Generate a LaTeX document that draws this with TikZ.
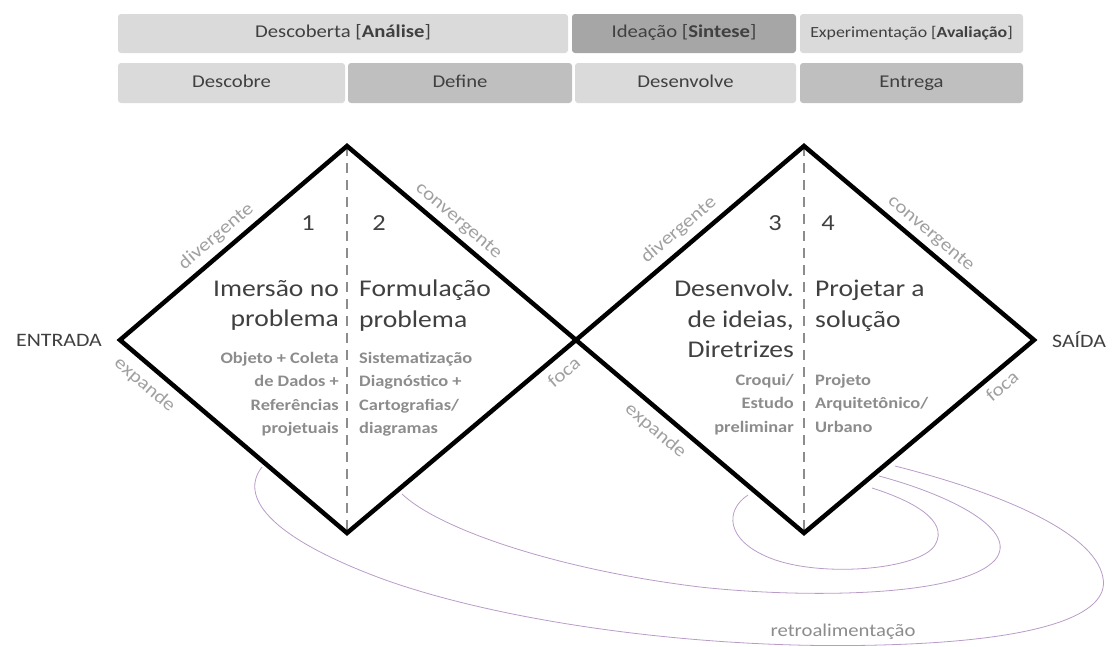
\documentclass[tikz,border=0pt]{standalone}
\usepackage{fontspec}
\setmainfont{Carlito}[FakeStretch=1.15]
\usetikzlibrary{positioning}

\definecolor{barlight}{RGB}{218,218,218}
\definecolor{bardark}{RGB}{191,191,191}
\definecolor{barideia}{RGB}{166,166,166}
\definecolor{txtdark}{RGB}{64,64,64}
\definecolor{txtgray}{RGB}{140,140,140}
\definecolor{edgegray}{RGB}{160,160,160}
\definecolor{loopviolet}{RGB}{185,155,200}

\begin{document}
\begin{tikzpicture}[x=1pt, y=-1pt,
    bar/.style={rectangle, rounded corners=3pt, minimum height=39pt, inner sep=0pt, outer sep=0pt, text=txtdark, text height=12pt, text depth=4pt, font=\fontsize{18}{20}\selectfont},
    diamondline/.style={line width=4.5pt, black},
    midline/.style={line width=2pt, txtgray, dash pattern=on 10pt off 7pt},
    edgelbl/.style={font=\fontsize{18.5}{20}\selectfont, text=edgegray, inner sep=0pt, sloped},
    bigtxt/.style={font=\fontsize{24}{30.5}\selectfont, text=txtdark, inner sep=0pt},
    smalltxt/.style={font=\bfseries\fontsize{16}{23.5}\selectfont, text=txtgray, inner sep=0pt},
    numtxt/.style={font=\fontsize{23}{25}\selectfont, text=txtdark, inner sep=0pt},
    sidetxt/.style={font=\fontsize{19}{20}\selectfont, text=txtdark, inner sep=0pt},
    loopline/.style={line width=0.8pt, loopviolet},
  ]
    \useasboundingbox (0,0) rectangle (1113,646);

    % phases (top row)
    \node[bar, fill=barlight, minimum width=450pt] (descoberta) at (343,33.5) {Descoberta [\textbf{Análise}]};
    \node[bar, fill=barideia, minimum width=224pt, right=4pt of descoberta] (ideacao) {Ideação [\textbf{Sintese}]};
    \node[bar, fill=barlight, minimum width=223pt, right=4pt of ideacao, font=\fontsize{15.5}{16}\selectfont] (experim) {Experimentação [\textbf{Avaliação}]};

    % stages (second row)
    \node[bar, fill=barlight, minimum width=227pt, minimum height=40pt] (descobre) at (231.5,83) {Descobre};
    \node[bar, fill=bardark, minimum width=224pt, minimum height=40pt, right=3pt of descobre] (define) {Define};
    \node[bar, fill=barlight, minimum width=221pt, minimum height=40pt, right=3pt of define] (desenvolve) {Desenvolve};
    \node[bar, fill=bardark, minimum width=223pt, minimum height=40pt, right=4pt of desenvolve] (entrega) {Entrega};

    % diamond corners
    \coordinate (inL) at (120,340);
    \coordinate (t1) at (347,146);
    \coordinate (mid) at (576,340);
    \coordinate (b1) at (347,533);
    \coordinate (t2) at (804,146);
    \coordinate (outR) at (1034,340);
    \coordinate (b2) at (804,533);

    % feedback loops (behind the diamonds)
    \coordinate (fbA1) at (262,467);
    \coordinate (fbA2) at (895,466);
    \coordinate (fbB1) at (402,494);
    \coordinate (fbB2) at (879,476);
    \coordinate (fbC1) at (748,495);
    \coordinate (fbC2) at (872,488);
    \draw[loopline] (fbA1) .. controls (240,495) and (265,535) .. (380,578)
        .. controls (500,622) and (700,650) .. (880,645)
        .. controls (1040,641) and (1110,615) .. (1103,578)
        .. controls (1095,530) and (990,490) .. (fbA2);
    \draw[loopline] (fbB1) .. controls (440,530) and (560,570) .. (700,587)
        .. controls (800,598) and (960,598) .. (995,560)
        .. controls (1020,530) and (950,495) .. (fbB2);
    \draw[loopline] (fbC1) .. controls (725,510) and (725,540) .. (770,558)
        .. controls (820,578) and (920,570) .. (935,545)
        .. controls (950,520) and (910,500) .. (fbC2);
    \node[font=\fontsize{18}{20}\selectfont, text=txtgray, inner sep=0pt] (retro) at (843,632) {retroalimentação};

    % the two diamonds
    \draw[midline] (t1) -- (b1);
    \draw[midline] (t2) -- (b2);
    \draw[diamondline] (inL) -- (t1) -- (mid) -- (b1) -- cycle;
    \draw[diamondline] (mid) -- (t2) -- (outR) -- (b2) -- cycle;

    % edge labels
    \path (inL) -- (t1) node[edgelbl, pos=0.47, above=8pt] (div1) {divergente};
    \path (t1) -- (mid) node[edgelbl, pos=0.445, above=7pt] (conv1) {convergente};
    \path (inL) -- (b1) node[edgelbl, pos=0.16, below=10pt] (exp1) {expande};
    \path (b1) -- (mid) node[edgelbl, pos=0.90, below=10pt] (foca1) {foca};
    \path (mid) -- (t2) node[edgelbl, pos=0.50, above=9pt] (div2) {divergente};
    \path (t2) -- (outR) node[edgelbl, pos=0.51, above=7pt] (conv2) {convergente};
    \path (mid) -- (b2) node[edgelbl, pos=0.40, below=10pt] (exp2) {expande};
    \path (b2) -- (outR) node[edgelbl, pos=0.82, below=8pt] (foca2) {foca};

    % entry and exit
    \node[sidetxt, left=18pt of inL] (entrada) {ENTRADA};
    \node[sidetxt, right=18pt of outR] (saida) {SAÍDA};

    % step numbers
    \node[numtxt, anchor=base] (n1) at (308,230) {1};
    \node[numtxt, anchor=base] (n2) at (379,230) {2};
    \node[numtxt, anchor=base] (n3) at (775,230) {3};
    \node[numtxt, anchor=base] (n4) at (828,230) {4};

    % step titles
    \node[bigtxt, align=right, anchor=north east] (imersao) at (339,280) {Imersão no\\problema};
    \node[bigtxt, align=left, anchor=north west] (formul) at (359,280) {Formulação\\problema};
    \node[bigtxt, align=right, anchor=north east] (desenv) at (794,280) {Desenvolv.\\de ideias,\\Diretrizes};
    \node[bigtxt, align=left, anchor=north west] (projetar) at (815,280) {Projetar a\\solução};

    % step contents
    \node[smalltxt, align=right, anchor=north east] (objeto) at (339,352) {Objeto + Coleta\\de Dados +\\Referências\\projetuais};
    \node[smalltxt, align=left, anchor=north west] (sistem) at (359,352) {Sistematização\\Diagnóstico +\\Cartografias/\\diagramas};
    \node[smalltxt, align=right, anchor=north east] (croqui) at (794,374) {Croqui/\\Estudo\\preliminar};
    \node[smalltxt, align=left, anchor=north west] (projeto) at (815,374) {Projeto\\Arquitetônico/\\Urbano};
\end{tikzpicture}
\end{document}
